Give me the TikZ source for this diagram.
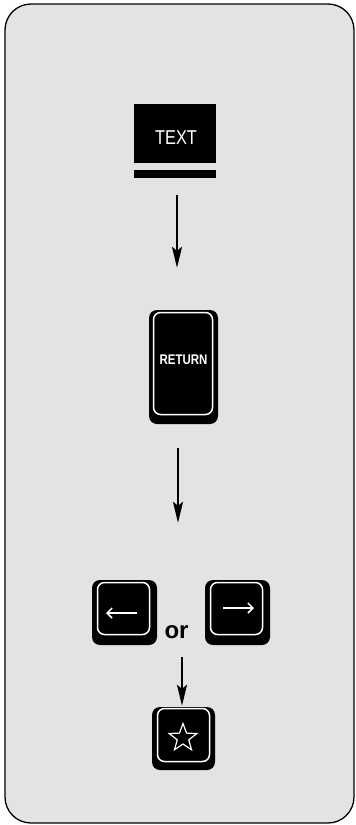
\documentclass[tikz,border=0pt]{standalone}
\usepackage{fontspec}
\setmainfont{Liberation Sans}
\newfontfamily\keyfont[FakeStretch=0.82]{Liberation Sans}
\usetikzlibrary{arrows.meta,shapes.geometric}
\tikzset{
  keyouter/.style={fill=black, draw=none, rounded corners=8pt, inner sep=0pt},
  keyinner/.style={draw=white, line width=1.5pt, rounded corners=7pt, inner sep=0pt},
  flowarr/.style={line width=2pt, -{Stealth[length=21pt,width=10pt,inset=4pt]}},
  glypharr/.style={white, line width=1.5pt, -{Straight Barb[length=5pt,width=10pt,line width=1.5pt]}},
  keylabel/.style={text=white, inner sep=0pt},
}
\begin{document}
\begin{tikzpicture}[x=1pt,y=-1pt]
\useasboundingbox (0,0) rectangle (356,825);
% panel
\draw[line width=1.3pt, fill=black!11, rounded corners=26pt] (5,4) rectangle (354,823);
% TEXT key
\node[fill=black, inner sep=0pt, minimum width=82pt, minimum height=59pt] (textkey) at (175,133.5) {};
\node[keylabel, font=\keyfont\fontsize{20}{20}\selectfont] (textlbl) at (176,138) {TEXT};
\node[fill=black, inner sep=0pt, minimum width=82pt, minimum height=8pt] (bar) at (175,174) {};
% RETURN key
\node[keyouter, minimum width=69pt, minimum height=114pt] (ret) at (183.5,367) {};
\node[keyinner, minimum width=59pt, minimum height=102pt] (retin) at (183,363.5) {};
\node[keylabel, font=\keyfont\bfseries\fontsize{14}{14}\selectfont] (retlbl) at (183.5,360) {RETURN};
% left / right keys
\node[keyouter, minimum width=65pt, minimum height=65pt] (lk) at (124.5,612.5) {};
\node[keyinner, minimum width=52pt, minimum height=52pt] (lkin) at (123.5,608.5) {};
\node[keyouter, minimum width=65pt, minimum height=65pt] (rk) at (237.5,612.5) {};
\node[keyinner, minimum width=52pt, minimum height=52pt] (rkin) at (236.5,608.5) {};
\draw[glypharr] (137,613) -- (106,613);
\draw[glypharr] (223,608) -- (254,608);
\node[inner sep=0pt, font=\bfseries\fontsize{24}{24}\selectfont, anchor=base] (or) at (176.5,638) {or};
% star key
\node[keyouter, minimum width=63pt, minimum height=63pt] (st) at (183.5,738.5) {};
\node[keyinner, minimum width=52pt, minimum height=53pt] (stin) at (183.5,735) {};
\node[star, star points=5, star point ratio=2.4, draw=white, line width=1.2pt, minimum size=29pt, inner sep=0pt] (starglyph) at (183,738) {};
% connectors
\draw[flowarr, shorten <=17pt, shorten >=42pt] ([xshift=2pt]bar.south) -- ([xshift=2pt]bar.south |- ret.north);
\draw[flowarr, shorten <=24pt, shorten >=57pt] ([xshift=-5.5pt]ret.south) -- ([xshift=-5.5pt]ret.south |- lk.north);
\draw[flowarr, shorten <=19pt, shorten >=1pt] ([xshift=-1.5pt]or.south -| st.north) -- ([xshift=-1.5pt]st.north);
\end{tikzpicture}
\end{document}
